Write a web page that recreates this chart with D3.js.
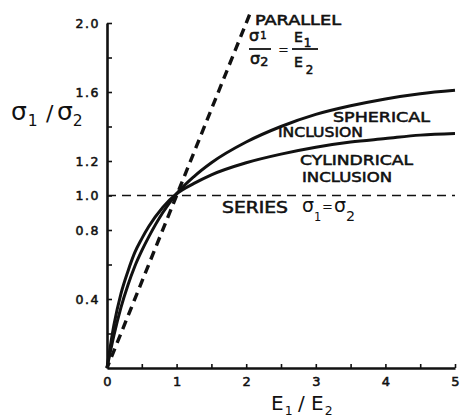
<!DOCTYPE html>
<html>
<head>
<meta charset="utf-8">
<script src="https://cdn.jsdelivr.net/npm/d3@7"></script>
<style>
  html, body { margin: 0; padding: 0; background: #fff; }
  svg text { font-family: "DejaVu Sans", sans-serif; fill: #111; }
  .medium { stroke: #111; stroke-width: 0.55px; }
</style>
</head>
<body>
<svg id="chart" width="460" height="419"></svg>
<script>
// Modulus ratio E1/E2 at which the curves are sampled
const modulusRatio = [0, 0.1, 0.2, 0.3, 0.4, 0.5, 0.6, 0.8, 1.0, 1.25, 1.5, 2, 2.5, 3, 3.5, 4, 4.5, 5];
// Stress ratio σ1/σ2, spherical inclusion
const spherical   = [0, 0.19, 0.35, 0.48, 0.59, 0.68, 0.76, 0.90, 1.01, 1.11, 1.19, 1.31, 1.40, 1.47, 1.52, 1.56, 1.59, 1.61];
// Stress ratio σ1/σ2, cylindrical inclusion
const cylindrical = [0, 0.25, 0.43, 0.56, 0.67, 0.75, 0.82, 0.93, 1.01, 1.07, 1.12, 1.19, 1.24, 1.28, 1.31, 1.33, 1.35, 1.36];
// Bounds: parallel (σ1/σ2 = E1/E2) and series (σ1 = σ2)
const parallelE = [0, 2.08];
const parallelS = [0, 2.08];
const seriesE = [0, 5];
const seriesS = [1, 1];
// Axis ticks
const xTicks = [0, 0.5, 1, 1.5, 2, 2.5, 3, 3.5, 4, 4.5, 5];
const xLabels = [0, 1, 2, 3, 4, 5];
const yTicks = [0.2, 0.4, 0.6, 0.8, 1.0, 1.2, 1.4, 1.6, 1.8, 2.0];
const yLabels = [0.4, 0.8, 1.0, 1.2, 1.6, 2.0];

const svg = d3.select("#chart");
const x = d3.scaleLinear().domain([0, 5]).range([107, 455]);
const y = d3.scaleLinear().domain([0, 2]).range([368, 23]);

const line = d3.line().x(d => x(d[0])).y(d => y(d[1]));
const smooth = d3.line().x(d => x(d[0])).y(d => y(d[1])).curve(d3.curveMonotoneX);

// Axes: ticks point inward
const xAxis = d3.axisBottom(x)
  .tickValues(xTicks)
  .tickSizeInner(-4).tickSizeOuter(0).tickPadding(9)
  .tickFormat(d => xLabels.includes(d) ? d3.format("d")(d) : "");
const gx = svg.append("g").attr("transform", `translate(0,${y(0)})`).call(xAxis);
gx.select(".domain").attr("stroke", "#111").attr("stroke-width", 2.6);
gx.selectAll(".tick line").attr("stroke", "#111").attr("stroke-width", 1.6);
gx.selectAll(".tick text").attr("font-size", 13).attr("class", "medium")
  .attr("font-family", "DejaVu Sans").attr("fill", "#111");

const yAxis = d3.axisLeft(y)
  .tickValues(yTicks)
  .tickSizeInner(-5).tickSizeOuter(0).tickPadding(7)
  .tickFormat(d => yLabels.some(v => Math.abs(v - d) < 1e-9) ? d3.format(".1f")(d) : "");
const gy = svg.append("g").attr("transform", `translate(${x(0)},0)`).call(yAxis);
gy.select(".domain").attr("stroke", "#111").attr("stroke-width", 2.6);
gy.selectAll(".tick line").attr("stroke", "#111").attr("stroke-width", 1.6);
gy.selectAll(".tick text").attr("font-size", 12.5).attr("class", "medium")
  .attr("font-family", "DejaVu Sans").attr("letter-spacing", 1.5).attr("fill", "#111");

// Series bound (horizontal dashed)
svg.append("path")
  .datum(seriesE.map((e, i) => [e, seriesS[i]]))
  .attr("d", line).attr("fill", "none")
  .attr("stroke", "#111").attr("stroke-width", 1.6).attr("stroke-dasharray", "9,6");

// Parallel bound (steep dashed)
svg.append("path")
  .datum(parallelE.map((e, i) => [e, parallelS[i]]))
  .attr("d", line).attr("fill", "none")
  .attr("stroke", "#111").attr("stroke-width", 3.4).attr("stroke-dasharray", "9,6")
  .attr("stroke-dashoffset", -12);

// Inclusion curves
[spherical, cylindrical].forEach(series => {
  svg.append("path")
    .datum(modulusRatio.map((e, i) => [e, series[i]]))
    .attr("d", smooth).attr("fill", "none")
    .attr("stroke", "#111").attr("stroke-width", 3).attr("stroke-linejoin", "round");
});

// Text helper: base symbol with its subscript drawn as a separate text
function subText(g, px, py, base, sub, size, opts = {}) {
  const t = g.append("text").attr("x", px).attr("y", py).attr("font-size", size).text(base);
  if (opts.cls) t.attr("class", opts.cls);
  const w = t.node().getComputedTextLength();
  const s = g.append("text")
    .attr("x", px + w + (opts.subDx || 0))
    .attr("y", py + (opts.subDy || size * 0.3))
    .attr("font-size", size * (opts.subScale || 0.62))
    .text(sub);
  if (opts.cls) s.attr("class", opts.cls);
}

// Axis titles
const ty = svg.append("g");
subText(ty, 11, 120, "σ", "1", 25, { subDy: 6, subDx: 1 });
ty.append("text").attr("x", 46).attr("y", 121).attr("font-size", 22).text("/");
subText(ty, 57, 120, "σ", "2", 25, { subDy: 6, subDx: 0 });

const tx = svg.append("g");
subText(tx, 271, 410, "E", "1", 20, { subDy: 5, subDx: 1 });
tx.append("text").attr("x", 298).attr("y", 410).attr("font-size", 20).text("/");
subText(tx, 311, 410, "E", "2", 20, { subDy: 5, subDx: 1 });

// Annotations
function label(px, py, str, size, len) {
  svg.append("text").attr("x", px).attr("y", py).attr("font-size", size)
    .attr("class", "medium")
    .attr("textLength", len).attr("lengthAdjust", "spacingAndGlyphs").text(str);
}
label(255, 25, "PARALLEL", 13.5, 86);
label(333, 122, "SPHERICAL", 14, 97);
label(278, 137, "INCLUSION", 14, 85);
label(300, 165, "CYLINDRICAL", 14, 113);
label(302, 182, "INCLUSION", 14, 90);
label(222, 213, "SERIES", 15, 66);

// Parallel fraction σ1/σ2 = E1/E2
const fr = svg.append("g");
subText(fr, 249, 41, "σ", "1", 16, { subDy: -2, subDx: 1, cls: "medium" });
fr.append("line").attr("x1", 249).attr("x2", 271).attr("y1", 49).attr("y2", 49)
  .attr("stroke", "#111").attr("stroke-width", 1.8);
subText(fr, 250, 64, "σ", "2", 16, { subDy: 2, subDx: 0, subScale: 0.8, cls: "medium" });
fr.append("text").attr("x", 278).attr("y", 54).attr("font-size", 13).text("=");
subText(fr, 294, 42, "E", "1", 14, { subDy: 5, subDx: 1, subScale: 0.85, cls: "medium" });
fr.append("line").attr("x1", 292).attr("x2", 318).attr("y1", 49).attr("y2", 49)
  .attr("stroke", "#111").attr("stroke-width", 1.8);
subText(fr, 294, 67, "E", "2", 14, { subDy: 7, subDx: 3, subScale: 0.85, cls: "medium" });

// Series relation σ1 = σ2
const sr = svg.append("g");
subText(sr, 302, 212, "σ", "1", 19, { subDy: 9, subDx: 0, subScale: 0.6 });
sr.append("text").attr("x", 322).attr("y", 211).attr("font-size", 13).text("=");
subText(sr, 334, 212, "σ", "2", 19, { subDy: 9, subDx: 0, subScale: 0.75 });
</script>
</body>
</html>
